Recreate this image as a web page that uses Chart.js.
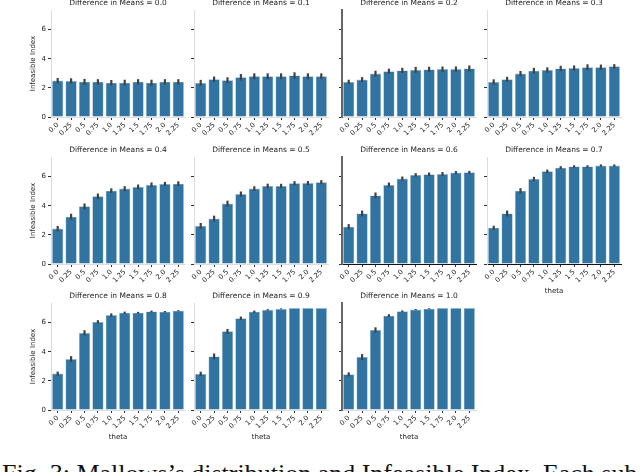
<!DOCTYPE html>
<html>
<head>
<meta charset="utf-8">
<script src="https://cdn.jsdelivr.net/npm/chart.js@4.4.1/dist/chart.umd.min.js"></script>
<style>
  html, body { margin: 0; padding: 0; background: #fff; }
  body { width: 640px; height: 472px; position: relative; overflow: hidden; }
  .cell { position: absolute; }
  #caption {
    position: absolute; left: 2px; top: 461px; white-space: nowrap;
    font-family: "Liberation Serif", serif; font-size: 26px; line-height: 1; color: #111;
  }
</style>
</head>
<body>
<div id="caption">Fig. 3: Mallows’s distribution and Infeasible Index. Each sub</div>
<script>
// categories (theta) and one series per "difference in means" panel
const theta = ['0.0', '0.25', '0.5', '0.75', '1.0', '1.25', '1.5', '1.75', '2.0', '2.25'];
const diffs = ['0.0', '0.1', '0.2', '0.3', '0.4', '0.5', '0.6', '0.7', '0.8', '0.9', '1.0'];
const yTicks = [0, 2, 4, 6];

const means00 = [2.50, 2.48, 2.42, 2.42, 2.36, 2.36, 2.42, 2.36, 2.42, 2.42];
const means01 = [2.35, 2.60, 2.53, 2.73, 2.80, 2.80, 2.80, 2.85, 2.80, 2.80];
const means02 = [2.41, 2.57, 2.98, 3.14, 3.20, 3.24, 3.27, 3.29, 3.29, 3.34];
const means03 = [2.41, 2.59, 2.98, 3.18, 3.23, 3.34, 3.36, 3.42, 3.42, 3.48];
const means04 = [2.43, 3.25, 3.96, 4.66, 5.04, 5.18, 5.30, 5.44, 5.50, 5.52];
const means05 = [2.62, 3.12, 4.15, 4.80, 5.18, 5.36, 5.36, 5.55, 5.56, 5.62];
const means06 = [2.56, 3.47, 4.71, 5.44, 5.87, 6.12, 6.16, 6.18, 6.28, 6.30];
const means07 = [2.49, 3.47, 5.03, 5.85, 6.37, 6.62, 6.70, 6.70, 6.76, 6.76];
const means08 = [2.50, 3.50, 5.30, 6.05, 6.52, 6.68, 6.68, 6.77, 6.75, 6.82];
const means09 = [2.48, 3.68, 5.41, 6.30, 6.75, 6.88, 6.95, 7.00, 7.00, 7.00];
const means10 = [2.45, 3.64, 5.50, 6.48, 6.78, 6.90, 6.96, 7.00, 7.00, 7.00];

// half width of the error bars
const err00 = [0.18, 0.18, 0.2, 0.18, 0.18, 0.2, 0.18, 0.2, 0.18, 0.18];
const err01 = [0.2, 0.18, 0.2, 0.22, 0.2, 0.2, 0.2, 0.22, 0.2, 0.2];
const err02 = [0.15, 0.17, 0.2, 0.18, 0.18, 0.2, 0.18, 0.18, 0.18, 0.2];
const err03 = [0.18, 0.17, 0.18, 0.2, 0.18, 0.18, 0.18, 0.2, 0.18, 0.15];
const err04 = [0.18, 0.2, 0.2, 0.18, 0.16, 0.17, 0.16, 0.16, 0.14, 0.16];
const err05 = [0.2, 0.2, 0.2, 0.18, 0.16, 0.16, 0.15, 0.14, 0.14, 0.14];
const err06 = [0.18, 0.2, 0.2, 0.16, 0.14, 0.12, 0.12, 0.14, 0.1, 0.1];
const err07 = [0.14, 0.2, 0.18, 0.14, 0.12, 0.1, 0.08, 0.08, 0.08, 0.08];
const err08 = [0.14, 0.2, 0.18, 0.12, 0.12, 0.08, 0.06, 0.06, 0.05, 0.04];
const err09 = [0.15, 0.2, 0.16, 0.12, 0.08, 0.05, 0.03, 0, 0, 0];
const err10 = [0.14, 0.2, 0.18, 0.1, 0.06, 0.04, 0.03, 0, 0, 0];

const allMeans = [means00, means01, means02, means03, means04, means05, means06, means07, means08, means09, means10];
const allErrs = [err00, err01, err02, err03, err04, err05, err06, err07, err08, err09, err10];

Chart.defaults.font.family = 'DejaVu Sans';
Chart.defaults.color = '#222';

const errorBars = {
  id: 'errorBars',
  afterDatasetsDraw(chart, args, opts) {
    const ctx = chart.ctx;
    const yScale = chart.scales.y;
    const vals = chart.data.datasets[0].data;
    ctx.save();
    ctx.strokeStyle = '#424242';
    ctx.lineWidth = 2.2;
    chart.getDatasetMeta(0).data.forEach((bar, i) => {
      const e = opts.errors[i];
      if (!e) return;
      ctx.beginPath();
      ctx.moveTo(bar.x, yScale.getPixelForValue(vals[i] - e));
      ctx.lineTo(bar.x, yScale.getPixelForValue(vals[i] + e));
      ctx.stroke();
    });
    ctx.restore();
  }
};

const colLeft = [51, 194, 342, 487];
const rowTop = [10, 157, 303];
const plotW = 134, plotH = 107;
const yW = 22, xH = 31, titleBox = 11, padR = 4;

diffs.forEach((d, i) => {
  const r = Math.floor(i / 4), c = i % 4;
  const showTheta = r === 2 || i === 7;
  const leftDark = c === 2;
  const bottomDark = i === 6 || i === 7;

  const div = document.createElement('div');
  div.className = 'cell';
  div.style.left = (colLeft[c] - yW) + 'px';
  div.style.top = (rowTop[r] - titleBox) + 'px';
  div.style.width = (yW + plotW + padR) + 'px';
  div.style.height = (titleBox + plotH + xH) + 'px';
  const cv = document.createElement('canvas');
  div.appendChild(cv);
  document.body.appendChild(div);

  new Chart(cv, {
    type: 'bar',
    data: {
      labels: theta,
      datasets: [{
        data: allMeans[i],
        backgroundColor: '#3274a1',
        borderColor: '#9dbdd6',
        borderWidth: 0.6,
        categoryPercentage: 0.84,
        barPercentage: 1
      }]
    },
    options: {
      responsive: true,
      maintainAspectRatio: false,
      animation: false,
      layout: { padding: { left: 0, right: padR, top: 0, bottom: 0 } },
      plugins: {
        legend: { display: false },
        tooltip: { enabled: false },
        title: {
          display: true,
          fullSize: false,
          text: 'Difference in Means = ' + d,
          font: { size: 7.5, weight: 'normal' },
          color: '#222',
          padding: { top: 0, bottom: 2 }
        },
        errorBars: { errors: allErrs[i] }
      },
      scales: {
        x: {
          grid: { drawOnChartArea: false, offset: false, tickLength: 3, tickColor: '#333' },
          border: { color: bottomDark ? '#111' : '#dcdcdc', width: 1 },
          ticks: { minRotation: 45, maxRotation: 45, autoSkip: false, font: { size: 6.8 }, padding: 1 },
          title: { display: showTheta, text: 'theta', font: { size: 7 }, padding: 0 },
          afterFit: s => { s.height = xH; }
        },
        y: {
          min: 0,
          max: 7.35,
          afterBuildTicks: s => { s.ticks = yTicks.map(v => ({ value: v })); },
          ticks: { callback: v => (c === 0 ? v : ''), font: { size: 7 }, padding: 2 },
          grid: { drawOnChartArea: false, tickLength: 3, tickColor: '#333' },
          border: { color: leftDark ? '#666' : '#dcdcdc', width: leftDark ? 2 : 1 },
          title: { display: c === 0, text: 'Infeasible Index', font: { size: 7 }, padding: 0 },
          afterFit: s => { s.width = yW; }
        }
      }
    },
    plugins: [errorBars]
  });
});
</script>
</body>
</html>
